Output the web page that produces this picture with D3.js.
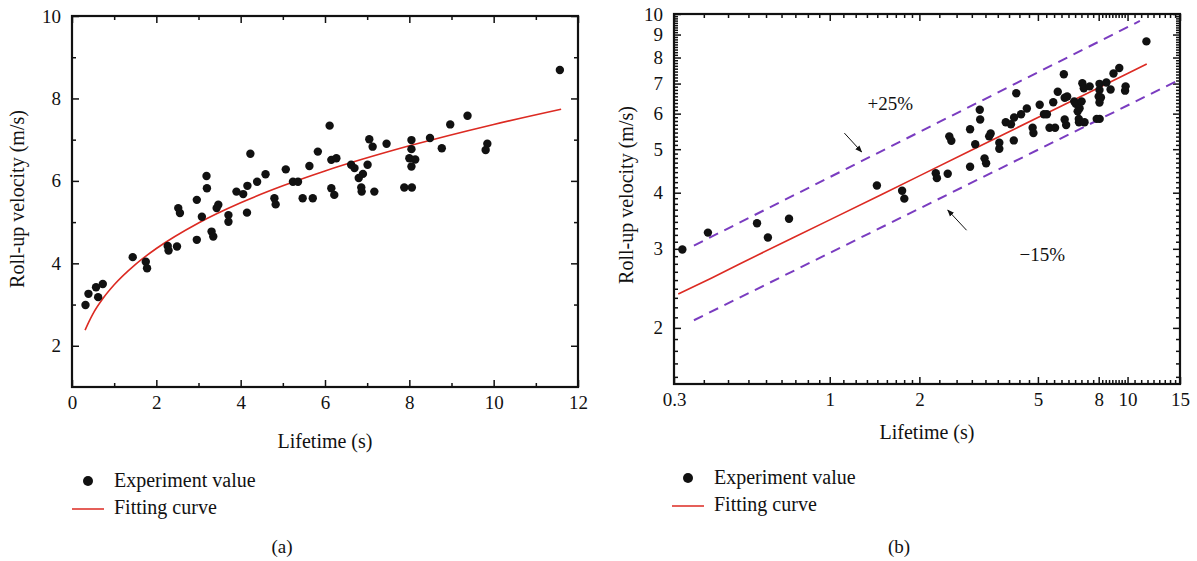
<!DOCTYPE html>
<html>
<head>
<meta charset="utf-8">
<script src="https://cdn.jsdelivr.net/npm/d3@7"></script>
<style>
    body { margin: 0; background: #fff; }
    svg text { font-family: "Liberation Serif", "DejaVu Serif", serif !important; fill: #111; }
</style>
</head>
<body>
<div id="chart"></div>
<script>
// measured points (lifetime in s, roll-up velocity in m/s)
var lifetime = [0.32, 0.39, 0.57, 0.62, 0.73, 1.44, 1.75, 1.78, 2.27, 2.29,
    2.49, 2.52, 2.56, 2.96, 2.96, 3.08, 3.19, 3.20, 3.31, 3.35,
    3.47, 3.43, 3.71, 3.71, 3.90, 4.06, 4.16, 4.15, 4.23, 4.39,
    4.59, 4.80, 4.83, 5.07, 5.24, 5.36, 5.47, 5.71, 5.63, 5.83,
    6.11, 6.15, 6.27, 6.15, 6.22, 6.62, 6.70, 6.90, 6.80, 7.01,
    6.86, 6.87, 7.05, 7.13, 7.17, 7.46, 8.05, 8.05, 8.00, 8.14,
    8.05, 7.88, 8.06, 8.49, 8.77, 8.97, 9.38, 9.85, 9.81, 11.57];
var velocity = [2.99, 3.26, 3.42, 3.18, 3.50, 4.15, 4.04, 3.88, 4.42, 4.31,
    4.41, 5.34, 5.22, 5.54, 4.57, 5.13, 6.12, 5.82, 4.77, 4.65,
    5.42, 5.34, 5.17, 5.01, 5.74, 5.68, 5.88, 5.23, 6.66, 5.98,
    6.16, 5.58, 5.43, 6.28, 5.98, 5.98, 5.58, 5.58, 6.36, 6.71,
    7.34, 6.51, 6.55, 5.82, 5.66, 6.39, 6.31, 6.17, 6.07, 6.39,
    5.84, 5.74, 7.01, 6.83, 5.74, 6.90, 6.99, 6.77, 6.55, 6.52,
    6.35, 5.84, 5.84, 7.04, 6.79, 7.37, 7.58, 6.90, 6.75, 8.69];

// fitting curve
var fitLifetime = [0.31, 0.4, 0.5, 0.75, 1, 1.5, 2, 3, 4, 5, 6, 8, 10, 11.6];
var fitVelocity = [2.38, 2.58, 2.78, 3.17, 3.48, 3.97, 4.36, 4.98, 5.47, 5.88, 6.24, 6.85, 7.37, 7.74];

// +25% / -15% bands on the log plot
var upperLifetime = [0.35, 11.0];
var upperVelocity = [3.05, 9.65];
var lowerLifetime = [0.35, 15];
var lowerVelocity = [2.08, 7.15];

// tick labels
var linTicksX = [0, 2, 4, 6, 8, 10, 12];
var linMinorX = [1, 3, 5, 7, 9, 11];
var linTicksY = [2, 4, 6, 8, 10];
var linMinorY = [3, 5, 7, 9];
var logTicksX = [0.3, 1, 2, 5, 8, 10, 15];
var logTicksY = [2, 3, 4, 5, 6, 7, 8, 9, 10];

var legendLabels = ["Experiment value", "Fitting curve"];
var panelLabels = ["(a)", "(b)"];
var bandLabels = ["+25%", "\u221215%"];

var red = "#dc2a22";
var purple = "#7a3cc0";
var serif = "'Liberation Serif', 'DejaVu Serif', serif";

var svg = d3.select("#chart")
    .append("svg")
    .attr("width", 1197)
    .attr("height", 561)
    .style("font-family", serif);

// arrowhead
svg.append("defs").append("marker")
    .attr("id", "arrow")
    .attr("viewBox", "0 0 10 10")
    .attr("refX", 9)
    .attr("refY", 5)
    .attr("markerWidth", 7)
    .attr("markerHeight", 7)
    .attr("markerUnits", "userSpaceOnUse")
    .attr("orient", "auto")
    .append("path")
    .attr("d", "M0,1L10,5L0,9Z")
    .attr("fill", "#111");

// 8 minor ticks between each pair of labelled ticks (like the original log axes)
function minorBetween(ticks) {
    var out = [];
    for (var i = 0; i < ticks.length - 1; i++) {
        var step = (ticks[i + 1] - ticks[i]) / 9;
        for (var k = 1; k < 9; k++) out.push(ticks[i] + k * step);
    }
    return out;
}

function styleAxis(g, size) {
    g.attr("font-family", serif);
    g.select(".domain").remove();
    g.selectAll("line").attr("stroke", "#111").attr("stroke-width", 1.5);
    g.selectAll("text").style("font-size", size + "px").style("font-family", serif);
}

function drawAxes(x, y, major, minor) {
    var x0 = x.range()[0], x1 = x.range()[1];
    var y0 = y.range()[0], y1 = y.range()[1];
    var fmt = function (d) { return d; };

    var sides = [
        { ax: d3.axisBottom(x), t: "translate(0," + y0 + ")", v: major.x, m: minor.x, lab: true, pad: 9 },
        { ax: d3.axisTop(x), t: "translate(0," + y1 + ")", v: major.x, m: minor.x, lab: false, pad: 0 },
        { ax: d3.axisLeft(y), t: "translate(" + x0 + ",0)", v: major.y, m: minor.y, lab: true, pad: 11 },
        { ax: d3.axisRight(y), t: "translate(" + x1 + ",0)", v: major.y, m: minor.y, lab: false, pad: 0 }
    ];
    sides.forEach(function (s) {
        svg.append("g")
            .attr("transform", s.t)
            .call(s.ax.tickValues(s.v).tickSize(-7).tickSizeOuter(0).tickPadding(s.pad)
                .tickFormat(s.lab ? fmt : ""))
            .call(styleAxis, 19);
        svg.append("g")
            .attr("transform", s.t)
            .call(s.ax.tickValues(s.m).tickSize(-4).tickSizeOuter(0).tickFormat(""))
            .call(styleAxis, 19);
    });

    // frame
    svg.append("rect")
        .attr("x", x0)
        .attr("y", y1)
        .attr("width", x1 - x0)
        .attr("height", y0 - y1)
        .attr("fill", "none")
        .attr("stroke", "#111")
        .attr("stroke-width", 2.2);
}

function drawTitles(cx, by, tx, ty) {
    svg.append("text")
        .attr("x", cx)
        .attr("y", by)
        .attr("text-anchor", "middle")
        .style("font-size", "20px")
        .text("Lifetime (s)");
    svg.append("text")
        .attr("transform", "translate(" + tx + "," + ty + ")rotate(-90)")
        .attr("text-anchor", "middle")
        .style("font-size", "20px")
        .text("Roll-up velocity (m/s)");
}

function drawLegend(lx, ly, label, px) {
    svg.append("circle")
        .attr("cx", lx + 16)
        .attr("cy", ly)
        .attr("r", 5)
        .attr("fill", "#111");
    svg.append("line")
        .attr("x1", lx)
        .attr("x2", lx + 32)
        .attr("y1", ly + 28)
        .attr("y2", ly + 28)
        .attr("stroke", red)
        .attr("stroke-width", 1.5);
    svg.selectAll(null)
        .data(legendLabels)
        .enter()
        .append("text")
        .attr("x", lx + 42)
        .attr("y", function (d, i) { return ly + 6 + i * 27; })
        .style("font-size", "20px")
        .text(function (d) { return d; });
    svg.append("text")
        .attr("x", px)
        .attr("y", 553)
        .attr("text-anchor", "middle")
        .style("font-size", "19px")
        .text(label);
}

var points = lifetime.map(function (d, i) { return { t: d, v: velocity[i] }; });
var fit = fitLifetime.map(function (d, i) { return { t: d, v: fitVelocity[i] }; });

// ---------- (a) linear axes ----------
var xa = d3.scaleLinear().domain([0, 12]).range([72, 578]);
var ya = d3.scaleLinear().domain([1, 10]).range([387, 16]);

drawAxes(xa, ya, { x: linTicksX, y: linTicksY }, { x: linMinorX, y: linMinorY });

var lineA = d3.line()
    .x(function (d) { return xa(d.t); })
    .y(function (d) { return ya(d.v); })
    .curve(d3.curveMonotoneX);

svg.append("path")
    .datum(fit)
    .attr("d", lineA)
    .attr("fill", "none")
    .attr("stroke", red)
    .attr("stroke-width", 1.6);

svg.selectAll("dotA")
    .data(points)
    .enter()
    .append("circle")
    .attr("cx", function (d) { return xa(d.t); })
    .attr("cy", function (d) { return ya(d.v); })
    .attr("r", 4.2)
    .attr("fill", "#111");

drawTitles(325, 448, 24, 199);
drawLegend(72, 481, panelLabels[0], 282);

// ---------- (b) log-log axes ----------
var xb = d3.scaleLog().domain([0.3, 15]).range([674, 1180]);
var yb = d3.scaleLog().domain([1.5, 10]).range([384, 14]);

var logMinorY = [1.556, 1.667, 1.778, 1.889].concat(minorBetween(logTicksY));
drawAxes(xb, yb, { x: logTicksX, y: logTicksY }, { x: minorBetween(logTicksX), y: logMinorY });

var lineB = d3.line()
    .x(function (d) { return xb(d.t); })
    .y(function (d) { return yb(d.v); });

var bands = [
    upperLifetime.map(function (d, i) { return { t: d, v: upperVelocity[i] }; }),
    lowerLifetime.map(function (d, i) { return { t: d, v: lowerVelocity[i] }; })
];
svg.selectAll("band")
    .data(bands)
    .enter()
    .append("path")
    .attr("d", lineB)
    .attr("fill", "none")
    .attr("stroke", purple)
    .attr("stroke-width", 2)
    .attr("stroke-dasharray", "10,7");

svg.append("path")
    .datum(fit)
    .attr("d", lineB)
    .attr("fill", "none")
    .attr("stroke", red)
    .attr("stroke-width", 1.6);

svg.selectAll("dotB")
    .data(points)
    .enter()
    .append("circle")
    .attr("cx", function (d) { return xb(d.t); })
    .attr("cy", function (d) { return yb(d.v); })
    .attr("r", 4.2)
    .attr("fill", "#111");

// band annotations
var arrows = [
    { t1: 1.12, v1: 5.43, t2: 1.28, v2: 4.93 },
    { t1: 2.88, v1: 3.30, t2: 2.49, v2: 3.66 }
];
svg.selectAll("arrow")
    .data(arrows)
    .enter()
    .append("line")
    .attr("x1", function (d) { return xb(d.t1); })
    .attr("y1", function (d) { return yb(d.v1); })
    .attr("x2", function (d) { return xb(d.t2); })
    .attr("y2", function (d) { return yb(d.v2); })
    .attr("stroke", "#111")
    .attr("stroke-width", 1)
    .attr("marker-end", "url(#arrow)");

var bandText = [{ t: 1.34, v: 6.11 }, { t: 4.34, v: 2.82 }];
svg.selectAll("bandText")
    .data(bandText)
    .enter()
    .append("text")
    .attr("x", function (d) { return xb(d.t); })
    .attr("y", function (d) { return yb(d.v); })
    .style("font-size", "19px")
    .text(function (d, i) { return bandLabels[i]; });

drawTitles(927, 439, 633, 195);
drawLegend(672, 478, panelLabels[1], 899);
</script>
</body>
</html>
